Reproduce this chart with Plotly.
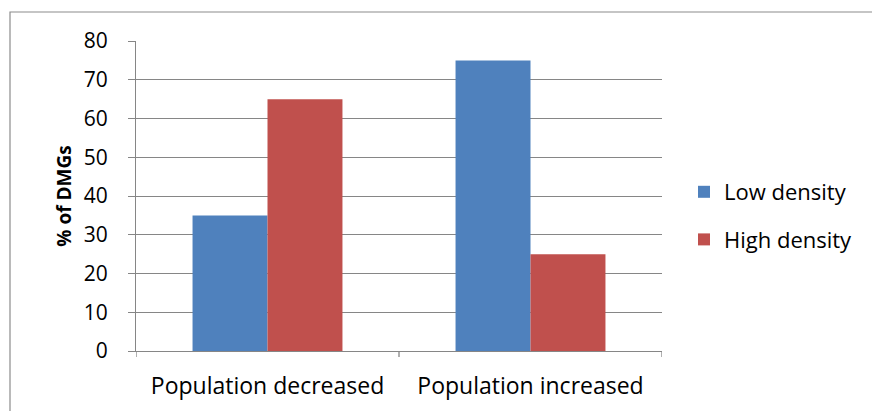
import plotly.graph_objects as go

categories = ["Population decreased", "Population increased"]
low_density = [35, 75]
high_density = [65, 25]
y_ticks = [0, 10, 20, 30, 40, 50, 60, 70, 80]

FONT = "'Open Sans', 'Noto Sans', sans-serif"
GRID = "#868686"

# plot area in pixels: x 136..662, y 41..351
L, R, T, B = 136, 210, 41, 60
W, H = 872, 411
pw, ph = W - L - R, H - T - B

fig = go.Figure()
fig.add_trace(go.Bar(name="Low density", x=categories, y=low_density,
                     legendgroup="low",
                     marker=dict(color="#4F81BD", line=dict(width=0))))
fig.add_trace(go.Bar(name="High density", x=categories, y=high_density,
                     legendgroup="high",
                     marker=dict(color="#C0504D", line=dict(width=0))))

def px_x(p):
    return (p - L) / pw

def px_y(p):
    return (H - B - p) / ph

shapes = [
    # outer chart frame
    dict(type="rect", xref="paper", yref="paper",
         x0=px_x(10), x1=px_x(880), y0=px_y(420), y1=px_y(12),
         line=dict(color="#8c8c8c", width=1.2), fillcolor="rgba(0,0,0,0)", layer="below"),
]
# category boundary ticks on the x axis
for xv in [-0.5, 0.5, 1.5]:
    shapes.append(dict(type="line", xref="x", yref="paper",
                       x0=xv, x1=xv, y0=0, y1=-6 / ph,
                       line=dict(color=GRID, width=1.3)))

fig.update_layout(
    width=W, height=H,
    margin=dict(l=L, r=R, t=T, b=B),
    paper_bgcolor="white", plot_bgcolor="white",
    barmode="group", bargap=0.43, bargroupgap=0,
    font=dict(family=FONT, size=21, color="#000000"),
    showlegend=True,
    legend=dict(x=px_x(684), y=px_y(171), xanchor="left", yanchor="top",
                font=dict(family=FONT, size=22, color="#000000"),
                traceorder="grouped",
                itemwidth=30, tracegroupgap=16, bgcolor="rgba(0,0,0,0)"),
    xaxis=dict(range=[-0.5, 1.5], showgrid=False, showline=True,
               linecolor=GRID, linewidth=1.3, ticks="", ticklen=0,
               ticklabelstandoff=14,
               tickfont=dict(family=FONT, size=23), automargin=False),
    yaxis=dict(range=[0, 80], tickvals=y_ticks, showgrid=True,
               gridcolor=GRID, gridwidth=1.3, showline=True,
               linecolor=GRID, linewidth=1.3, ticks="outside", ticklen=7,
               tickcolor=GRID, tickwidth=1.3, zeroline=False,
               ticklabelstandoff=16,
               tickfont=dict(family=FONT, size=21), automargin=False,
               title=dict(text="<b>% of DMGs</b>", standoff=6,
                          font=dict(family=FONT, size=19))),
    shapes=shapes,
)

fig.write_html("out.html")
